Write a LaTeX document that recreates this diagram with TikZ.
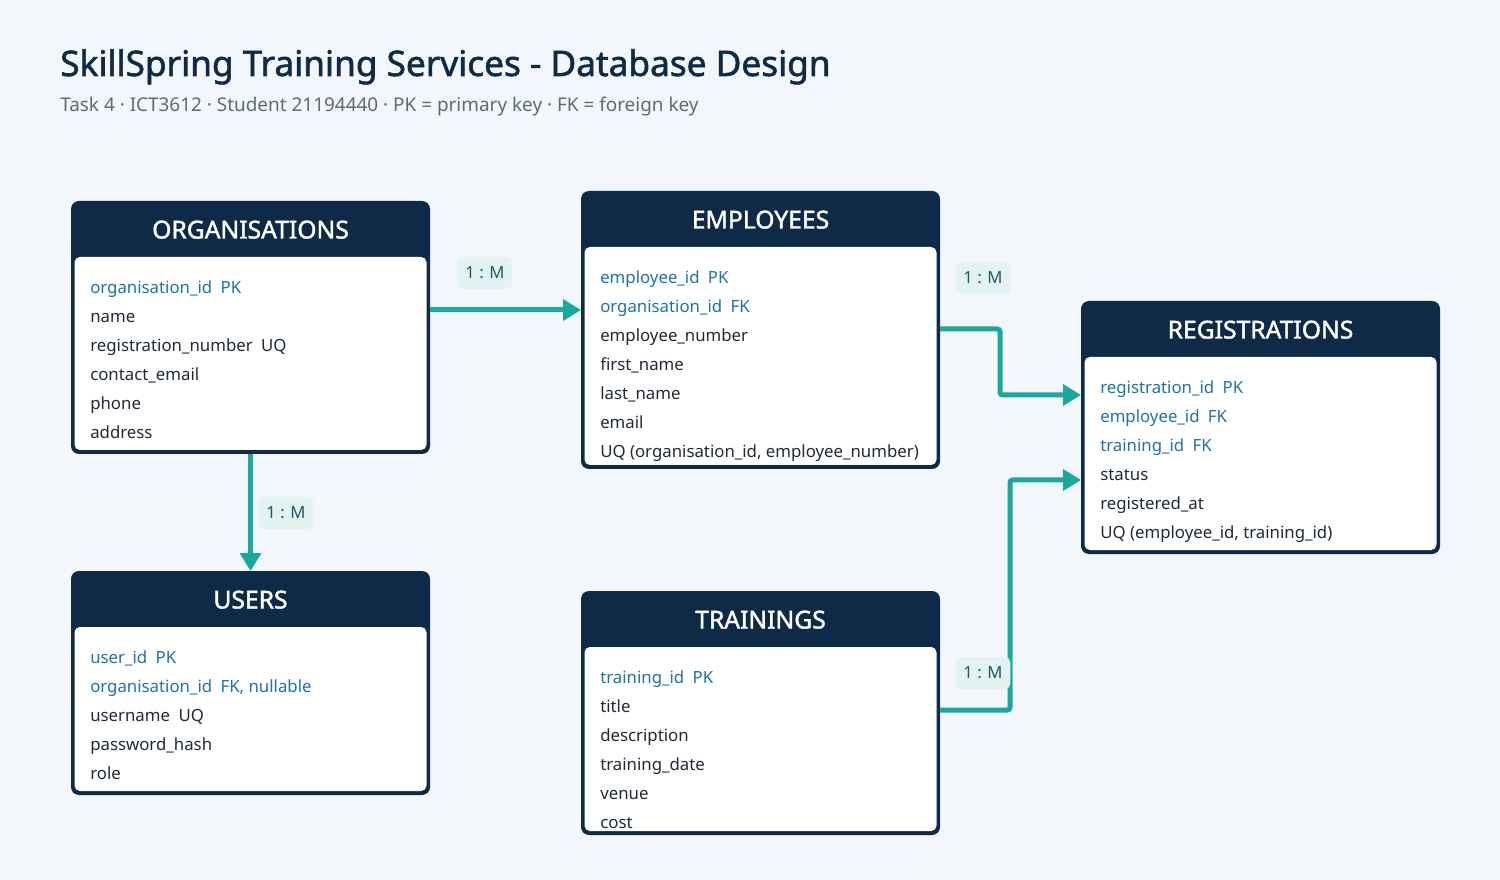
\documentclass[tikz,border=0pt]{standalone}
\usepackage{fontspec}
\setmainfont{Noto Sans}[AutoFakeBold=1.6]
\usetikzlibrary{calc,positioning,arrows.meta}
\definecolor{bgpage}{HTML}{F3F6FA}
\definecolor{navy}{HTML}{0F2A46}
\definecolor{relteal}{HTML}{1AA89D}
\definecolor{keyblue}{HTML}{1F74A0}
\definecolor{rowtext}{HTML}{1F2A37}
\definecolor{subgrey}{HTML}{5B6B7D}
\definecolor{tagfill}{HTML}{E3F3F2}
\definecolor{tagtext}{HTML}{1E5866}

\begin{document}
\begin{tikzpicture}
      [x=0.75pt, y=-0.75pt,
        line/.style={draw=relteal, line width=3.75pt, rounded corners=2pt,
          -{Triangle[length=13.5pt,width=15.5pt]}},
        table/.style={
          fill=navy,
          rounded corners=6pt,
          anchor=north west,
          minimum width=269.25pt,
          inner sep=0pt, outer sep=0pt,
        },
        body/.style={
          fill=white,
          rounded corners=4pt,
          anchor=north,
          minimum width=264pt,
          inner sep=0pt, outer sep=0pt,
        },
        head/.style={text=white, anchor=base, font=\fontsize{18.5}{21}\selectfont\bfseries},
        field/.style={anchor=base west, inner sep=0pt, font=\fontsize{12.6}{15}\selectfont},
        card/.style={
          fill=tagfill, text=tagtext,
          rounded corners=4pt,
          minimum width=41pt, minimum height=24pt, inner sep=0pt,
          font=\fontsize{12.5}{15}\selectfont
        }]
      \fill[bgpage] (0,0) rectangle (1500,880);

      \node[anchor=base west, inner sep=0pt, text=navy, font=\fontsize{26.4}{31}\selectfont\bfseries] (title) at (60,76)
        {SkillSpring Training Services - Database Design};
      \node[anchor=base west, inner sep=0pt, text=subgrey, font=\fontsize{14.2}{17}\selectfont] (subtitle) at (60,112)
        {Task 4 · ICT3612 · Student 21194440 · PK = primary key · FK = foreign key};

      % tables
      \node[table, minimum height=189.75pt] (org) at (71,201) {};
      \node[body, minimum height=144.75pt] (orgbody) at ($(org.north)+(0,56)$) {};
      \node[head] (orghead) at ($(org.north)+(0,37.5)$) {ORGANISATIONS};
      \foreach \f/\c [count=\i from 0] in {organisation\_id\hspace{.5em}PK/keyblue, name/rowtext,
          registration\_number\hspace{.5em}UQ/rowtext, contact\_email/rowtext, phone/rowtext, address/rowtext}
        \node[field, text=\c] (org-\i) at ($(org.north west)+(19,92.5+29*\i)$) {\f};

      \node[table, minimum height=208.5pt] (emp) at (581,191) {};
      \node[body, minimum height=163.5pt] (empbody) at ($(emp.north)+(0,56)$) {};
      \node[head] (emphead) at ($(emp.north)+(0,37.5)$) {EMPLOYEES};
      \foreach \f/\c [count=\i from 0] in {employee\_id\hspace{.5em}PK/keyblue, organisation\_id\hspace{.5em}FK/keyblue,
          employee\_number/rowtext, first\_name/rowtext, last\_name/rowtext, email/rowtext,
          {UQ (organisation\_id, employee\_number)}/rowtext}
        \node[field, text=\c] (emp-\i) at ($(emp.north west)+(19,92.5+29*\i)$) {\f};

      \node[table, minimum height=189.75pt] (reg) at (1081,301) {};
      \node[body, minimum height=144.75pt] (regbody) at ($(reg.north)+(0,56)$) {};
      \node[head] (reghead) at ($(reg.north)+(0,37.5)$) {REGISTRATIONS};
      \foreach \f/\c [count=\i from 0] in {registration\_id\hspace{.5em}PK/keyblue, employee\_id\hspace{.5em}FK/keyblue,
          training\_id\hspace{.5em}FK/keyblue, status/rowtext, registered\_at/rowtext,
          {UQ (employee\_id, training\_id)}/rowtext}
        \node[field, text=\c] (reg-\i) at ($(reg.north west)+(19,92.5+29*\i)$) {\f};

      \node[table, minimum height=168pt] (users) at (71,571) {};
      \node[body, minimum height=123pt] (usersbody) at ($(users.north)+(0,56)$) {};
      \node[head] (usershead) at ($(users.north)+(0,37.5)$) {USERS};
      \foreach \f/\c [count=\i from 0] in {user\_id\hspace{.5em}PK/keyblue, {organisation\_id\hspace{.5em}FK, nullable}/keyblue,
          username\hspace{.5em}UQ/rowtext, password\_hash/rowtext, role/rowtext}
        \node[field, text=\c] (users-\i) at ($(users.north west)+(19,92.5+29*\i)$) {\f};

      \node[table, minimum height=183pt] (trn) at (581,591) {};
      \node[body, minimum height=138pt] (trnbody) at ($(trn.north)+(0,56)$) {};
      \node[head] (trnhead) at ($(trn.north)+(0,37.5)$) {TRAININGS};
      \foreach \f/\c [count=\i from 0] in {training\_id\hspace{.5em}PK/keyblue, title/rowtext, description/rowtext,
          training\_date/rowtext, venue/rowtext, cost/rowtext}
        \node[field, text=\c] (trn-\i) at ($(trn.north west)+(19,92.5+29*\i)$) {\f};

      % relationships
      \draw[line] ($(org.north east)+(0,109)$) -- ($(emp.north west)+(0,119)$);
      \draw[line] ($(emp.north east)+(0,138)$) -- ++(60,0) |- ($(reg.north west)+(0,94)$);
      \draw[line] ($(trn.north east)+(0,119)$) -- ++(70,0) |- ($(reg.north west)+(0,179)$);
      \draw[line] (org.south) -- (users.north);

      \node[card] (orgemp) at (485,273) {1 : M};
      \node[card] (empreg) at (983,278) {1 : M};
      \node[card] (trnreg) at (983,673) {1 : M};
      \node[card] (orgusers) at (286,513) {1 : M};
    \end{tikzpicture}
\end{document}
